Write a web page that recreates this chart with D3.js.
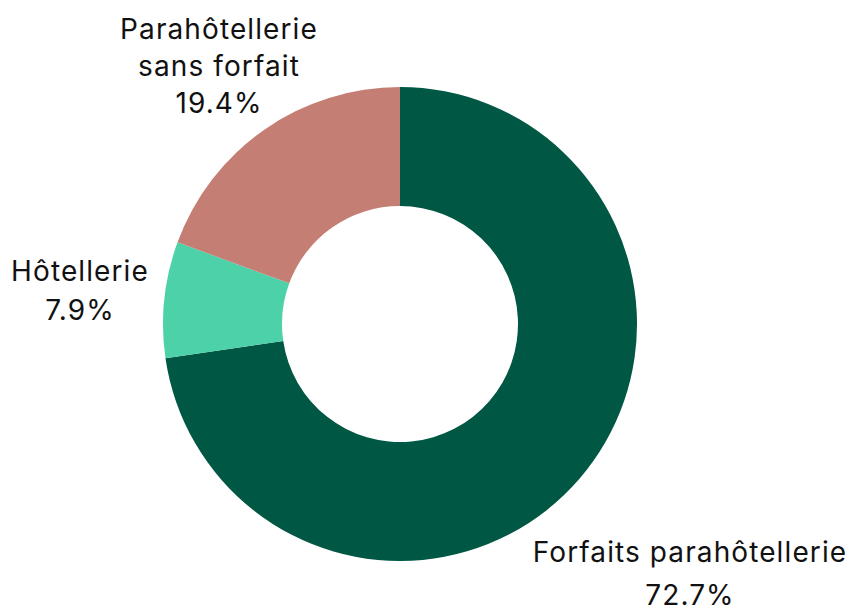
<!DOCTYPE html>
<html><head><meta charset="utf-8">
<script src="https://cdn.jsdelivr.net/npm/d3@7"></script>
<style>body{margin:0;background:#fff}svg{display:block}</style>
</head><body>
<script>
const categories = ["Forfaits parahôtellerie", "Hôtellerie", "Parahôtellerie sans forfait"];
const values = [72.7, 7.9, 19.4];
const colors = ["#005744", "#4dd1a9", "#c47e74"];
const labelLines = [["Forfaits parahôtellerie", "72.7%"], ["Hôtellerie", "7.9%"], ["Parahôtellerie", "sans forfait", "19.4%"]];
const labelPos = [[690, 554], [80, 273], [219, 31]];

const W = 853, H = 610;
const svg = d3.select("body").append("svg").attr("width", W).attr("height", H);
const cx = 400, cy = 324, R = 237, r = 118;
const pie = d3.pie().sort(null).value(d => d)(values);
const arc = d3.arc().innerRadius(r).outerRadius(R);
const g = svg.append("g").attr("transform", `translate(${cx},${cy})`);
g.selectAll("path").data(pie).join("path").attr("d", arc).attr("fill", (d, i) => colors[i]);

const font = "Inter, 'Noto Sans', sans-serif";
const lineGap = [43, 39, 37];
labelLines.forEach((lines, i) => {
  const t = svg.append("text").attr("text-anchor", "middle").attr("font-family", font)
    .attr("font-size", 28).attr("letter-spacing", 1.1).attr("fill", "#111");
  lines.forEach((l, j) => {
    t.append("tspan").attr("x", labelPos[i][0]).attr("y", labelPos[i][1] + j * lineGap[i])
      .attr("dominant-baseline", "middle").text(l);
  });
});
</script>
</body></html>
